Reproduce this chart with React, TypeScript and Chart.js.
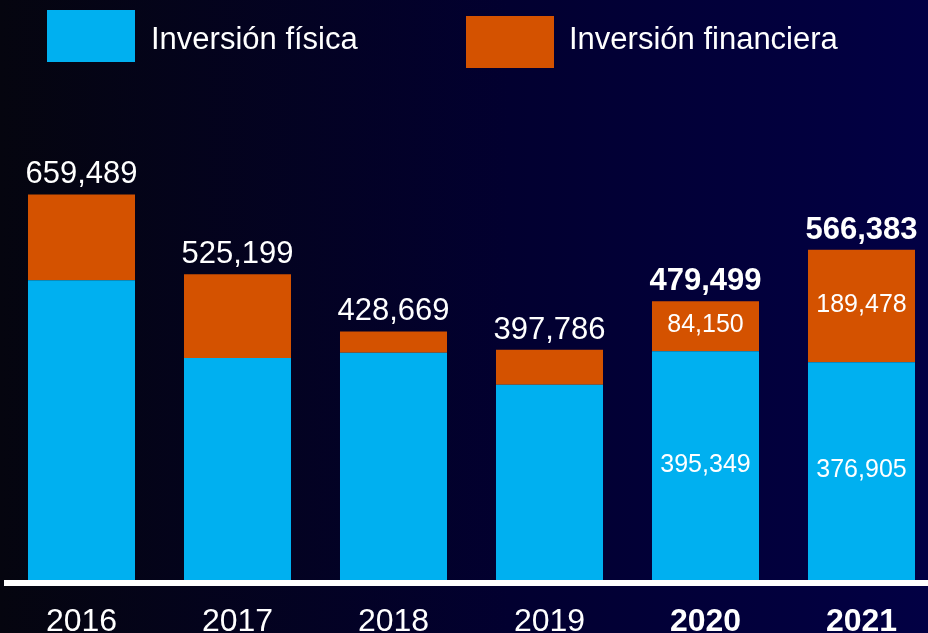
import { useEffect, useRef } from "react";
import { Chart, registerables } from "chart.js";

Chart.register(...registerables);

const years = ["2016", "2017", "2018", "2019", "2020", "2021"];
const fisica = [515000, 384000, 393000, 339000, 395349, 376905];
const financiera = [144489, 141199, 35669, 58786, 84150, 189478];
const totals = [659489, 525199, 428669, 397786, 479499, 566383];
const highlighted = [false, false, false, false, true, true];
const seriesNames = ["Inversión física", "Inversión financiera"];
const seriesColors = ["#00B0F0", "#D45200"];

const FONT = '"Liberation Sans", Arial, Helvetica, sans-serif';
const fmt = (v: number) => v.toLocaleString("en-US");

const overlay = {
  id: "overlay",
  afterDatasetsDraw(chart: any) {
    const ctx = chart.ctx as CanvasRenderingContext2D;
    const xs = chart.scales.x;
    const ys = chart.scales.y;
    const y0 = ys.getPixelForValue(0);
    ctx.save();
    // baseline
    ctx.fillStyle = "#ffffff";
    ctx.fillRect(4, y0 - 6, chart.width, 6);

    ctx.textAlign = "center";
    for (let i = 0; i < years.length; i++) {
      const x = xs.getPixelForValue(i);
      const bold = highlighted[i] ? "bold " : "";
      // totals
      ctx.textBaseline = "alphabetic";
      ctx.font = `${bold}31px ${FONT}`;
      ctx.fillStyle = "#ffffff";
      ctx.fillText(fmt(totals[i]), x, ys.getPixelForValue(totals[i]) - 11);
      // x labels
      ctx.font = `${bold}32px ${FONT}`;
      ctx.fillText(years[i], x, 631);
      // inner labels
      if (highlighted[i]) {
        ctx.textBaseline = "middle";
        ctx.font = `25px ${FONT}`;
        const yf = ys.getPixelForValue(fisica[i]);
        const yt = ys.getPixelForValue(totals[i]);
        ctx.fillText(fmt(fisica[i]), x, (y0 + yf) / 2 - 4);
        ctx.fillText(fmt(financiera[i]), x, (yf + yt) / 2 - 1);
      }
    }

    // legend
    const legendBoxes = [
      { x: 47, y: 10, tx: 151 },
      { x: 466, y: 16, tx: 569 },
    ];
    chart.data.datasets.forEach((ds: any, k: number) => {
      const b = legendBoxes[k];
      ctx.fillStyle = ds.backgroundColor;
      ctx.fillRect(b.x, b.y, 88, 52);
      ctx.fillStyle = "#ffffff";
      ctx.textAlign = "left";
      ctx.textBaseline = "alphabetic";
      ctx.font = `31px ${FONT}`;
      ctx.fillText(ds.label, b.tx, 49);
    });
    ctx.restore();
  },
};

export default function App() {
  const ref = useRef<HTMLCanvasElement>(null);

  useEffect(() => {
    if (!ref.current) return;
    const chart = new Chart(ref.current, {
      type: "bar",
      data: {
        labels: years,
        datasets: [
          {
            label: seriesNames[0],
            data: fisica,
            backgroundColor: seriesColors[0],
            borderWidth: 0,
            categoryPercentage: 1,
            barPercentage: 0.686,
          },
          {
            label: seriesNames[1],
            data: financiera,
            backgroundColor: seriesColors[1],
            borderWidth: 0,
            categoryPercentage: 1,
            barPercentage: 0.686,
          },
        ],
      },
      options: {
        responsive: false,
        animation: false,
        devicePixelRatio: 1,
        layout: { padding: { left: 3.5, right: 0.5, top: 0, bottom: 47 } },
        plugins: {
          legend: { display: false },
          tooltip: { enabled: false },
        },
        scales: {
          x: { stacked: true, display: false },
          y: { stacked: true, display: false, min: 0, max: 987000 },
        },
      },
      plugins: [overlay],
    });
    return () => chart.destroy();
  }, []);

  return (
    <div
      style={{
        position: "fixed",
        left: 0,
        top: 0,
        width: 928,
        height: 633,
        overflow: "hidden",
        background: "linear-gradient(90deg, #05050f 0%, #020030 55%, #020044 100%)",
      }}
    >
      <canvas
        ref={ref}
        width={940}
        height={633}
        style={{ display: "block", width: 940, height: 633 }}
      />
    </div>
  );
}
